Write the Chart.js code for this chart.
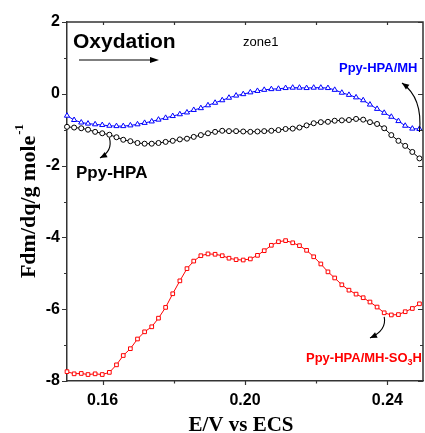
<!DOCTYPE html>
<html><head><meta charset="utf-8">
<script src="https://cdn.jsdelivr.net/npm/chart.js@4/dist/chart.umd.min.js"></script>
<style>
html,body{margin:0;padding:0;background:#fff;overflow:hidden;width:425px;height:433px}
#wrap{position:relative;width:428px;height:433px}
</style></head><body>
<div id="wrap"><canvas id="c" width="428" height="433"></canvas></div>
<script>
// Potential (V vs ECS) of each sample
const potential = [0.1500,0.1520,0.1540,0.1559,0.1579,0.1599,0.1619,0.1639,0.1658,0.1678,
  0.1698,0.1718,0.1738,0.1757,0.1777,0.1797,0.1817,0.1837,0.1856,0.1876,
  0.1896,0.1916,0.1936,0.1955,0.1975,0.1995,0.2015,0.2035,0.2054,0.2074,
  0.2094,0.2114,0.2134,0.2153,0.2173,0.2193,0.2213,0.2233,0.2252,0.2272,
  0.2292,0.2312,0.2332,0.2351,0.2371,0.2391,0.2411,0.2431,0.2450,0.2470,0.2490];

// Ppy-HPA (black circles)
const ppyHPA = [-0.92,-0.94,-0.96,-1.00,-1.06,-1.10,-1.14,-1.21,-1.28,-1.32,
  -1.37,-1.39,-1.39,-1.37,-1.34,-1.31,-1.27,-1.25,-1.20,-1.15,
  -1.10,-1.06,-1.03,-1.04,-1.04,-1.05,-1.06,-1.05,-1.04,-1.03,
  -1.01,-0.98,-0.97,-0.94,-0.88,-0.82,-0.79,-0.78,-0.75,-0.74,
  -0.73,-0.70,-0.72,-0.79,-0.84,-0.96,-1.15,-1.31,-1.45,-1.62,-1.80];

// Ppy-HPA/MH (blue triangles)
const ppyHPAMH = [-0.61,-0.73,-0.80,-0.83,-0.85,-0.87,-0.89,-0.90,-0.90,-0.88,
  -0.85,-0.81,-0.77,-0.72,-0.67,-0.62,-0.57,-0.52,-0.45,-0.40,
  -0.32,-0.25,-0.18,-0.11,-0.05,-0.01,0.04,0.08,0.11,0.13,
  0.14,0.16,0.17,0.17,0.16,0.17,0.17,0.16,0.11,0.03,
  -0.03,-0.10,-0.18,-0.30,-0.42,-0.53,-0.64,-0.76,-0.89,-0.97,-0.98];

// Ppy-HPA/MH-SO3H (red squares)
const ppyHPAMHSO3H = [-7.74,-7.80,-7.79,-7.82,-7.80,-7.82,-7.76,-7.55,-7.29,-7.10,
  -6.83,-6.63,-6.49,-6.25,-5.95,-5.57,-5.21,-4.87,-4.66,-4.51,
  -4.46,-4.47,-4.51,-4.58,-4.62,-4.63,-4.60,-4.50,-4.37,-4.22,
  -4.12,-4.09,-4.15,-4.23,-4.36,-4.54,-4.74,-4.96,-5.13,-5.32,
  -5.47,-5.58,-5.68,-5.80,-5.94,-6.10,-6.16,-6.15,-6.07,-5.98,-5.85];

const xTickValues = [0.16,0.18,0.20,0.22,0.24];
const xTickLabels = ['0.16','','0.20','','0.24'];
const yTickValues = [-8,-7,-6,-5,-4,-3,-2,-1,0,1,2];
const yTickLabels = ['-8','','-6','','-4','','-2','','0','','2'];

const SANS = '"Liberation Sans", Arial, Helvetica, sans-serif';
const SERIF = '"Liberation Serif", "Times New Roman", serif';

function pts(ys){ return potential.map((x,i)=>({x:x,y:ys[i]})); }

function arrowHead(ctx, fx, fy, tx, ty, len, wid){
  const ang = Math.atan2(ty-fy, tx-fx);
  ctx.beginPath();
  ctx.moveTo(tx,ty);
  ctx.lineTo(tx - len*Math.cos(ang) + wid*Math.sin(ang), ty - len*Math.sin(ang) - wid*Math.cos(ang));
  ctx.lineTo(tx - len*Math.cos(ang) - wid*Math.sin(ang), ty - len*Math.sin(ang) + wid*Math.cos(ang));
  ctx.closePath(); ctx.fill();
}
function curvedArrow(ctx, p0, c, p1){
  ctx.beginPath(); ctx.moveTo(p0[0],p0[1]); ctx.quadraticCurveTo(c[0],c[1],p1[0],p1[1]); ctx.stroke();
  arrowHead(ctx, c[0], c[1], p1[0], p1[1], 7, 3);
}

const deco = {
  id:'deco',
  afterDraw(chart){
    const {ctx, chartArea:a, scales:{x,y}} = chart;
    const X = v => x.getPixelForValue(v), Y = v => y.getPixelForValue(v);
    ctx.save();
    ctx.strokeStyle = '#333'; ctx.lineWidth = 1.2;
    // x ticks: bottom outward, top inward
    xTickValues.forEach((v,i)=>{
      const p = Math.round(X(v))+0.5, major = xTickLabels[i] !== '';
      ctx.beginPath();
      ctx.moveTo(p, a.bottom); ctx.lineTo(p, a.bottom + (major?4:2.5));
      ctx.moveTo(p, a.top); ctx.lineTo(p, a.top + 3);
      ctx.stroke();
    });
    yTickValues.forEach((v,i)=>{
      const p = Math.round(Y(v))+0.5, major = yTickLabels[i] !== '';
      ctx.beginPath();
      ctx.moveTo(a.left, p); ctx.lineTo(a.left - (major?5:3), p);
      ctx.moveTo(a.right, p); ctx.lineTo(a.right - (major?5:3), p);
      ctx.stroke();
    });
    // top and right frame
    ctx.lineWidth = 1.5;
    ctx.beginPath(); ctx.moveTo(a.left, a.top); ctx.lineTo(a.right, a.top); ctx.lineTo(a.right, a.bottom); ctx.stroke();

    // Y title with superscript
    ctx.fillStyle = '#000';
    ctx.save();
    ctx.translate(27, (a.top+a.bottom)/2);
    ctx.rotate(-Math.PI/2);
    ctx.font = 'bold 22px ' + SERIF;
    const main = 'Fdm/dq/g mole';
    const mw = ctx.measureText(main).width;
    ctx.font = 'bold 13px ' + SERIF;
    const sw = ctx.measureText('-1').width;
    const start = -(mw+sw)/2;
    ctx.textBaseline = 'middle'; ctx.textAlign = 'left';
    ctx.font = 'bold 22px ' + SERIF;
    ctx.fillText(main, start, 2);
    ctx.font = 'bold 13px ' + SERIF;
    ctx.fillText('-1', start+mw+1, -7);
    ctx.restore();

    // X title
    ctx.font = 'bold 21px ' + SERIF;
    ctx.textAlign = 'center'; ctx.textBaseline = 'alphabetic';
    ctx.fillText('E/V vs ECS', 241, 431);

    // Oxydation + arrow
    ctx.textAlign = 'left';
    ctx.font = 'bold 21px ' + SANS;
    ctx.fillText('Oxydation', 73, 48);
    ctx.strokeStyle = '#000'; ctx.lineWidth = 1.2;
    ctx.beginPath(); ctx.moveTo(79, 60); ctx.lineTo(152, 60); ctx.stroke();
    arrowHead(ctx, 79, 60, 159, 60, 9, 3);

    ctx.font = '13px ' + SANS;
    ctx.fillText('zone1', 243, 46);

    // Series labels
    ctx.fillStyle = '#0000ff';
    ctx.font = 'bold 13px ' + SANS;
    ctx.fillText('Ppy-HPA/MH', 339, 72);

    ctx.fillStyle = '#000';
    ctx.font = 'bold 17px ' + SANS;
    ctx.fillText('Ppy-HPA', 76, 178);

    ctx.fillStyle = '#ff0000';
    ctx.font = 'bold 13px ' + SANS;
    let t = 'Ppy-HPA/MH-SO';
    ctx.fillText(t, 306, 362);
    let w = ctx.measureText(t).width;
    ctx.font = 'bold 9px ' + SANS;
    ctx.fillText('3', 306+w, 365);
    let w3 = ctx.measureText('3').width;
    ctx.font = 'bold 13px ' + SANS;
    ctx.fillText('H', 306+w+w3, 362);

    // curved arrows
    ctx.strokeStyle = '#000'; ctx.fillStyle = '#000'; ctx.lineWidth = 1.1;
    curvedArrow(ctx, [X(0.2490), Y(-0.98)+3], [423, 98], [402, 83]);
    curvedArrow(ctx, [X(0.1619), Y(-1.14)+3], [113, 151], [100, 158]);
    curvedArrow(ctx, [X(0.2391), Y(-6.10)+4], [387, 330], [370, 338]);
    ctx.restore();
  }
};

const common = {showLine:true, borderWidth:1, pointBorderWidth:1, pointBackgroundColor:'#fff', tension:0, clip:false};

new Chart(document.getElementById('c'), {
  type:'scatter',
  data:{datasets:[
    Object.assign({label:'Ppy-HPA', data:pts(ppyHPA), borderColor:'#000', pointBorderColor:'#000', pointStyle:'circle', pointRadius:2.5}, common),
    Object.assign({label:'Ppy-HPA/MH', data:pts(ppyHPAMH), borderColor:'#0000ff', pointBorderColor:'#0000ff', pointStyle:'triangle', pointRadius:3}, common),
    Object.assign({label:'Ppy-HPA/MH-SO3H', data:pts(ppyHPAMHSO3H), borderColor:'#ff0000', pointBorderColor:'#ff0000', pointStyle:'rect', pointRadius:2.6}, common)
  ]},
  options:{
    responsive:false, animation:false, events:[],
    layout:{padding:{left:0,right:1,top:22,bottom:0}},
    plugins:{legend:{display:false}, tooltip:{enabled:false}},
    scales:{
      x:{type:'linear', min:0.15, max:0.25,
        grid:{display:false, drawTicks:false},
        border:{display:true, color:'#333', width:1.5},
        afterBuildTicks: s => { s.ticks = xTickValues.map(v=>({value:v})); },
        afterFit: s => { s.height = 52; },
        ticks:{autoSkip:false, maxRotation:0, color:'#000', padding:10,
          font:{family:SANS, size:16, weight:'bold'},
          callback:(v,i)=>xTickLabels[i]}
      },
      y:{type:'linear', min:-8, max:2,
        grid:{display:false, drawTicks:false},
        border:{display:true, color:'#333', width:1.5},
        afterBuildTicks: s => { s.ticks = yTickValues.map(v=>({value:v})); },
        afterFit: s => { s.width = 67; },
        ticks:{autoSkip:false, color:'#000', padding:7,
          font:{family:SANS, size:16, weight:'bold'},
          callback:(v,i)=>yTickLabels[i]}
      }
    }
  },
  plugins:[deco]
});
</script>
</body></html>
